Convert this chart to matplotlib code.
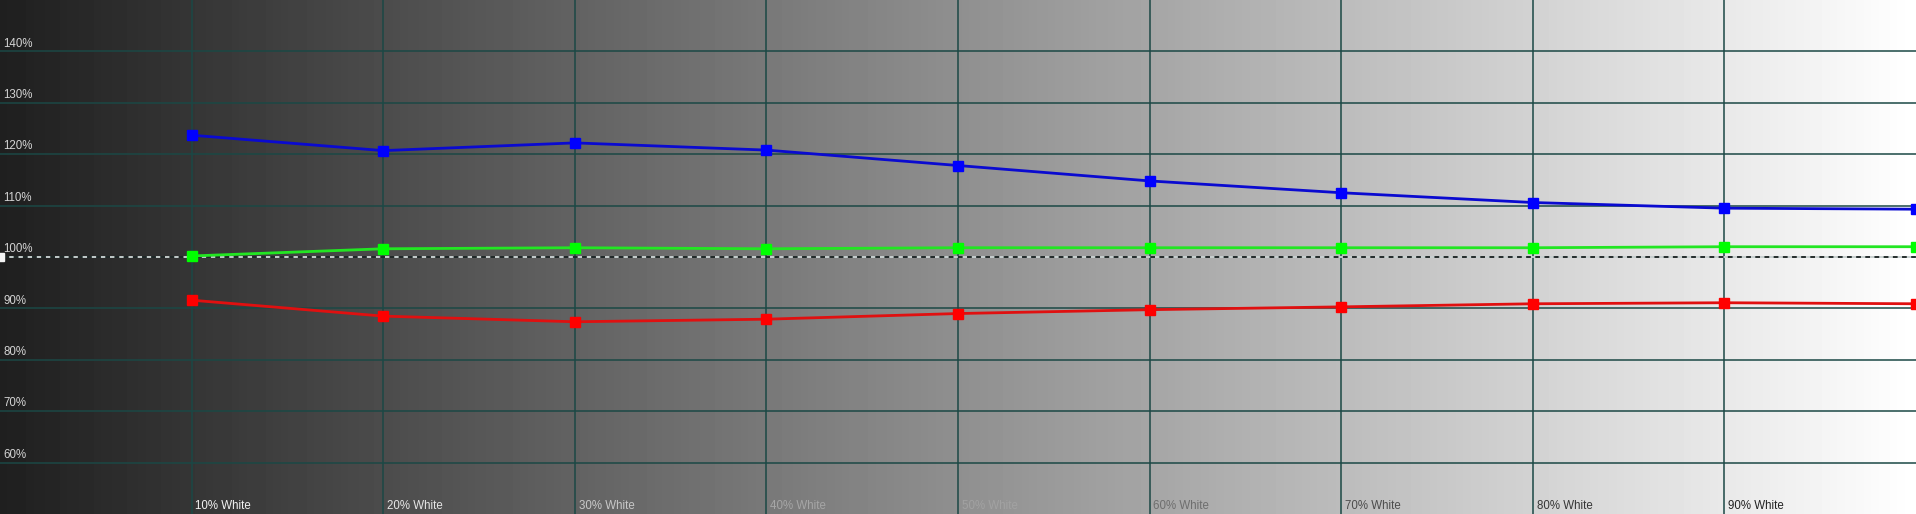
import numpy as np
import matplotlib.pyplot as plt

# grayscale levels (% white) and measured RGB balance (%)
levels = [10, 20, 30, 40, 50, 60, 70, 80, 90, 100]
red = [91.6, 88.5, 87.4, 87.9, 89.0, 89.75, 90.3, 90.9, 91.1, 90.9]
green = [100.2, 101.6, 101.8, 101.6, 101.8, 101.8, 101.8, 101.8, 102.0, 102.0]
blue = [123.7, 120.7, 122.2, 120.8, 117.8, 114.8, 112.5, 110.6, 109.5, 109.3]

x_ticks = [10, 20, 30, 40, 50, 60, 70, 80, 90]
x_labels = ["10% White", "20% White", "30% White", "40% White", "50% White",
            "60% White", "70% White", "80% White", "90% White"]
x_label_colors = ["#f2f2f2", "#e6e6e6", "#c8c8c8", "#a6a6a6", "#a2a2a2",
                  "#6e6e6e", "#4c4c4c", "#363636", "#222222"]
y_ticks = [60, 70, 80, 90, 100, 110, 120, 130, 140]
y_labels = ["60%", "70%", "80%", "90%", "100%", "110%", "120%", "130%", "140%"]

plt.rcParams['font.family'] = ['Liberation Sans', 'DejaVu Sans']

fig = plt.figure(figsize=(19.16, 5.14), dpi=100)
ax = fig.add_axes([0, 0, 1, 1])
ax.set_xlim(0, 100)
ax.set_ylim(50, 150)
ax.axis("off")

# gray ramp background, dark on the left to white on the right
ramp = np.linspace(0x1f / 255, 1.0, 512).reshape(1, -1)
ax.imshow(ramp, cmap="gray", vmin=0, vmax=1, aspect="auto",
          extent=(0, 100, 50, 150), zorder=0)

grid_color = "#1b4845"
for x in x_ticks:
    ax.axvline(x, color=grid_color, lw=1.1, zorder=1)
for y in y_ticks:
    ax.axhline(y, color=grid_color, lw=1.1, zorder=1)

# 100% reference line: alternating light/dark dashes
ax.plot([0, 100], [100, 100], color="#f0f0f0", lw=1.1, ls=(0, (3, 3)), zorder=2)
ax.plot([0, 100], [100, 100], color="#202020", lw=1.1, ls=(3, (3, 3)), zorder=2)
ax.plot([0], [100], marker="s", color="#f4f4f4", markersize=6, zorder=3)

ax.plot(levels, blue, color="#0a0ad0", lw=2.0, marker="s", markersize=6.5,
        markerfacecolor="#0000ff", markeredgecolor="#0000ff", zorder=4)
ax.plot(levels, green, color="#22e622", lw=2.0, marker="s", markersize=6.5,
        markerfacecolor="#00ff00", markeredgecolor="#00ff00", zorder=4)
ax.plot(levels, red, color="#e01010", lw=2.0, marker="s", markersize=6.5,
        markerfacecolor="#ff0000", markeredgecolor="#ff0000", zorder=4)

for y, lab in zip(y_ticks, y_labels):
    ax.text(0.18, y + 0.35, lab, color="#d4d4d4", fontsize=8.3,
            ha="left", va="bottom", zorder=5)
for x, lab, c in zip(x_ticks, x_labels, x_label_colors):
    ax.text(x + 0.2, 50.3, lab, color=c, fontsize=8.3,
            ha="left", va="bottom", zorder=5)

fig.savefig("out.png", dpi=100)
